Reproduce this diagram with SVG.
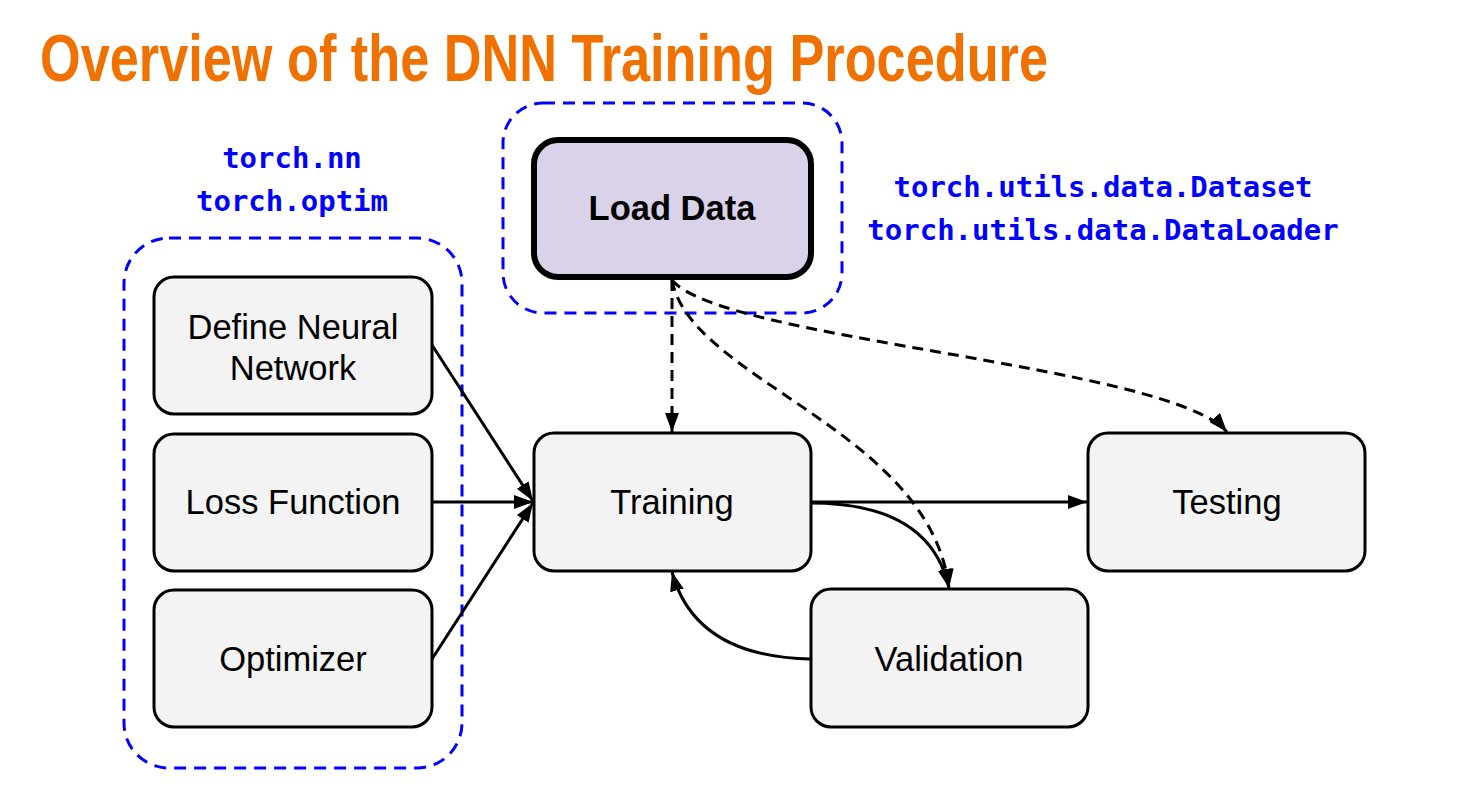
<svg xmlns="http://www.w3.org/2000/svg" width="1482" height="785" viewBox="0 0 1482 785">
<style>
.title{font-family:"Liberation Sans",Arial,sans-serif;font-weight:bold;font-size:66px;fill:#F07000}
.grp{fill:none;stroke:#0000ff;stroke-width:3;stroke-dasharray:12,8}
.box{fill:#f3f3f3;stroke:#000;stroke-width:3}
.lbl{font-family:"Liberation Sans",Arial,sans-serif;font-size:34.5px;fill:#000;text-anchor:middle}
.code{font-family:"DejaVu Sans Mono","Liberation Mono",monospace;font-weight:bold;font-size:29px;fill:#0000ff;text-anchor:middle}
.edge{fill:none;stroke:#000;stroke-width:3}
.dash{stroke-dasharray:11,7}
</style>
<defs>
<marker id="arr" markerUnits="userSpaceOnUse" markerWidth="22" markerHeight="16" refX="19" refY="7" orient="auto">
<path d="M0,0 L19,7 L0,14 z" fill="#000"/>
</marker>
</defs>
<rect width="1482" height="785" fill="#fff"/>
<text class="title" x="40" y="81" textLength="1008" lengthAdjust="spacingAndGlyphs">Overview of the DNN Training Procedure</text>

<g id="group-left">
<rect class="grp" x="124" y="238" width="338" height="530" rx="45"/>
<text class="code" x="292" y="168">torch.nn</text>
<text class="code" x="292" y="211">torch.optim</text>
</g>
<g id="group-data">
<rect class="grp" x="503" y="103" width="339" height="210" rx="40"/>
<text class="code" x="1103" y="197">torch.utils.data.Dataset</text>
<text class="code" x="1103" y="240">torch.utils.data.DataLoader</text>
</g>

<g id="connectors">
<line class="edge" x1="432" y1="345" x2="533" y2="501" marker-end="url(#arr)"/>
<line class="edge" x1="432" y1="502" x2="533" y2="502" marker-end="url(#arr)"/>
<line class="edge" x1="432" y1="659" x2="533" y2="503" marker-end="url(#arr)"/>
<line class="edge dash" x1="672" y1="280" x2="672" y2="432" marker-end="url(#arr)"/>
<path class="edge dash" d="M672,280 C690,380 930,430 949,588" marker-end="url(#arr)"/>
<path class="edge dash" d="M672,280 C720,340 1170,365 1227,432" marker-end="url(#arr)"/>
<line class="edge" x1="811" y1="502" x2="1087" y2="502" marker-end="url(#arr)"/>
<path class="edge" d="M811,503 Q930,503 949,588" marker-end="url(#arr)"/>
<path class="edge" d="M811,659 Q695,657 672,572" marker-end="url(#arr)"/>
</g>

<g id="node-define">
<rect class="box" x="154" y="277" width="278" height="137" rx="20"/>
<text class="lbl" x="293" y="339">Define Neural</text>
<text class="lbl" x="293" y="380">Network</text>
</g>
<g id="node-loss">
<rect class="box" x="154" y="434" width="278" height="137" rx="20"/>
<text class="lbl" x="293" y="514">Loss Function</text>
</g>
<g id="node-optimizer">
<rect class="box" x="154" y="590" width="278" height="137" rx="20"/>
<text class="lbl" x="293" y="671">Optimizer</text>
</g>
<g id="node-load">
<rect x="534" y="140" width="277" height="137" rx="24" fill="#d9d2e9" stroke="#000" stroke-width="6"/>
<text class="lbl" x="672" y="220" font-weight="bold">Load Data</text>
</g>
<g id="node-training">
<rect class="box" x="534" y="433" width="277" height="138" rx="20"/>
<text class="lbl" x="672" y="514">Training</text>
</g>
<g id="node-testing">
<rect class="box" x="1088" y="433" width="277" height="138" rx="20"/>
<text class="lbl" x="1227" y="514">Testing</text>
</g>
<g id="node-validation">
<rect class="box" x="811" y="589" width="277" height="138" rx="20"/>
<text class="lbl" x="949" y="671">Validation</text>
</g>
</svg>
